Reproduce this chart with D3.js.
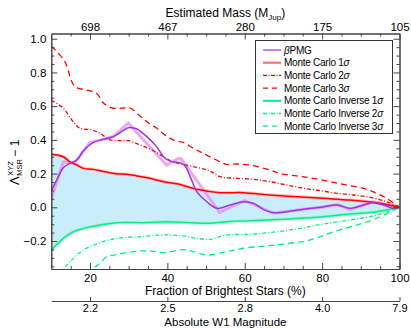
<!DOCTYPE html>
<html><head><meta charset="utf-8">
<script src="https://cdn.jsdelivr.net/npm/d3@7"></script>
<style>
body{margin:0;background:#fff;}
text{font-family:"Liberation Sans",Arial,sans-serif;fill:#000;}
</style></head>
<body><svg id="c" width="411" height="329"></svg>
<script>
// ---- data (fraction of brightest stars %, Lambda-1) ----
const mc3 = [[10,0.955],[11,0.934],[13.5,0.864],[16.1,0.716],[19.1,0.696],[21.7,0.677],[23.4,0.62],[25.6,0.59],[28.2,0.588],[30.3,0.59],[32.5,0.55],[34.7,0.508],[37.2,0.47],[39.6,0.425],[42,0.395],[44.1,0.385],[46.7,0.35],[48.4,0.33],[51,0.30],[55.3,0.255],[57.9,0.257],[61.4,0.25],[66.5,0.221],[69.1,0.2],[73.4,0.186],[77.7,0.172],[82.1,0.152],[86.4,0.132],[90.7,0.113],[94.1,0.083],[96.7,0.053],[100,0]];
const mc2 = [[10,0.635],[13.1,0.588],[15.3,0.518],[17.4,0.469],[20.4,0.459],[22.6,0.439],[25.2,0.40],[27.5,0.395],[29.9,0.395],[32.9,0.37],[36,0.34],[39,0.30],[41.5,0.27],[45,0.25],[48,0.235],[51,0.215],[53.6,0.182],[57.9,0.172],[62.2,0.166],[66.5,0.152],[70.9,0.132],[75.2,0.113],[79.5,0.099],[83.8,0.083],[88.1,0.073],[92.4,0.059],[96.7,0.033],[100,0]];
const mc1 = [[10,0.315],[11.5,0.31],[13.1,0.30],[14.8,0.27],[16.6,0.251],[18.3,0.231],[20.9,0.225],[23.4,0.213],[26.9,0.198],[29.5,0.196],[32.1,0.186],[35.5,0.172],[39,0.152],[42.8,0.138],[47.6,0.107],[53.6,0.087],[59.6,0.087],[66.5,0.073],[73.4,0.063],[80.3,0.053],[87.2,0.043],[94.1,0.027],[100,0]];
const bpmg = [[10,0.10],[11.4,0.162],[13.1,0.235],[14.8,0.261],[16.6,0.281],[18.3,0.335],[20.9,0.385],[23.4,0.403],[26,0.419],[28.6,0.455],[29.9,0.472],[31,0.472],[32.1,0.465],[34.7,0.419],[37.2,0.36],[39,0.30],[40.3,0.278],[41.5,0.268],[42.5,0.268],[43.5,0.262],[44.6,0.245],[45.9,0.182],[47.6,0.093],[50.2,0.033],[52.8,-0.006],[56.2,0.014],[59.6,0.033],[62.2,0.024],[64.8,-0.012],[67.4,-0.032],[70.9,-0.026],[75.2,-0.012],[79.5,0],[83.8,0.014],[87.2,-0.006],[90.7,0.014],[93.2,0.027],[95.8,0.014],[98.4,-0.006],[100,0]];
const bpmgRaw = [[10,0.05],[13.1,0.27],[16,0.262],[20,0.385],[23,0.40],[26,0.42],[29.9,0.50],[39.8,0.25],[42.8,0.29],[43.5,0.29],[53.5,-0.03],[60,0.04],[64,0.0],[67.4,-0.035],[75,-0.012],[80,0.0],[84,0.016],[87.2,-0.014],[93.2,0.032],[100,0]];
const inv1 = [[10,-0.253],[13.1,-0.184],[15.7,-0.145],[18.3,-0.125],[22.6,-0.105],[26.9,-0.091],[33.8,-0.091],[39.8,-0.085],[45.9,-0.091],[51,-0.095],[55.3,-0.085],[61.4,-0.08],[70,-0.071],[78.6,-0.059],[87.2,-0.04],[94.1,-0.026],[100,0]];
const inv2 = [[12.4,-0.40],[14,-0.342],[15.7,-0.303],[18.3,-0.253],[22.6,-0.21],[26.9,-0.184],[33,-0.174],[39,-0.164],[44.1,-0.17],[47.6,-0.184],[51,-0.19],[55.3,-0.164],[61.4,-0.16],[68.3,-0.145],[74.3,-0.125],[80.3,-0.099],[87.2,-0.075],[94.1,-0.046],[100,0]];
const inv3 = [[19.5,-0.40],[20.9,-0.362],[22.6,-0.332],[24.3,-0.293],[26.9,-0.28],[31.2,-0.263],[33.8,-0.258],[36.5,-0.262],[39.4,-0.269],[44.1,-0.251],[47,-0.265],[50.5,-0.283],[55.3,-0.263],[59.6,-0.243],[65.7,-0.229],[70,-0.218],[76.9,-0.194],[82.9,-0.145],[89,-0.105],[94.1,-0.065],[100,0]];
const fracTicks = [20,40,60,80,100];
const massLabels = ["698","467","280","175","105"];
const magLabels = ["2.2","2.5","2.8","4.0","7.9"];
const yTicks = [-0.2,0,0.2,0.4,0.6,0.8,1.0];
const legendNames = ["βPMG","Monte Carlo 1σ","Monte Carlo 2σ","Monte Carlo 3σ","Monte Carlo Inverse 1σ","Monte Carlo Inverse 2σ","Monte Carlo Inverse 3σ"];

// ---- layout ----
const L=51.3, R=399.5, T=33.5, B=269;
const svg = d3.select("#c");
const x = d3.scaleLinear().domain([10,100]).range([L,R]);
const y = d3.scaleLinear().domain([-0.366,1.031]).range([B,T]);

const RED="#ff0000", PUR="#9a35e6", GRN="#00ee8c";
const defs = svg.append("defs");
defs.append("clipPath").attr("id","clip").append("rect").attr("x",L).attr("y",T).attr("width",R-L).attr("height",B-T);
const g = svg.append("g").attr("clip-path","url(#clip)");
const line = d3.line().x(d=>x(d[0])).y(d=>y(d[1])).curve(d3.curveCatmullRom.alpha(0.5));
const lineLin = d3.line().x(d=>x(d[0])).y(d=>y(d[1]));

// fill between MC1 and Inverse1
const p1 = line(mc1);
const p2 = line(inv1.slice().reverse()).replace(/^M/,"L");
g.append("path").attr("d",p1+p2+"Z").attr("fill","#c9eefb").attr("stroke","none");

// bands
g.append("path").attr("d",line(mc1)).attr("fill","none").attr("stroke","#ffb0c0").attr("stroke-opacity",0.7).attr("stroke-width",3.5);
g.append("path").attr("d",line(inv1)).attr("fill","none").attr("stroke","#a0f5cc").attr("stroke-opacity",0.7).attr("stroke-width",3.5);
g.append("path").attr("d",lineLin(bpmgRaw)).attr("fill","none").attr("stroke","#ee88ee").attr("stroke-opacity",0.75).attr("stroke-width",3).attr("stroke-linejoin","miter");

const DASH="6,4", DASHDOT="4,2,1,2";
function draw(data,color,dash,w){
  g.append("path").attr("d",line(data)).attr("fill","none").attr("stroke",color)
   .attr("stroke-width",w).attr("stroke-dasharray",dash||null);
}
draw(mc3,RED,DASH,1.3);
draw(mc2,RED,DASHDOT,1.3);
draw(inv3,GRN,DASH,1.3);
draw(inv2,GRN,DASHDOT,1.3);
draw(inv1,GRN,null,1.5);
draw(mc1,RED,null,1.5);
draw(bpmg,PUR,null,1.5);

// ---- axes ----
const minorX = d3.range(15,100,5).filter(v=>v%20!==0);
const minorY = d3.range(-0.35,1.03,0.05).map(v=>+v.toFixed(2)).filter(v=>Math.abs((v*10)%2)>0.01 && Math.abs(Math.abs((v*10)%2)-2)>0.01);
function styleAxis(sel,fs){
  sel.selectAll("path").attr("stroke","#444").attr("stroke-width",1);
  sel.selectAll("line").attr("stroke","#444").attr("stroke-width",1);
  sel.selectAll("text").style("font-size",(fs||11.5)+"px").attr("fill","#000");
}
// bottom
styleAxis(svg.append("g").attr("transform",`translate(0,${B})`)
  .call(d3.axisBottom(x).tickValues(fracTicks).tickFormat(d3.format("d")).tickSizeInner(-6).tickSizeOuter(0).tickPadding(5)));
styleAxis(svg.append("g").attr("transform",`translate(0,${B})`)
  .call(d3.axisBottom(x).tickValues(minorX).tickFormat("").tickSizeInner(-3).tickSizeOuter(0)));
// top
styleAxis(svg.append("g").attr("transform",`translate(0,${T})`)
  .call(d3.axisTop(x).tickValues(fracTicks).tickFormat((d,i)=>massLabels[i]).tickSizeInner(-6).tickSizeOuter(0).tickPadding(3)));
styleAxis(svg.append("g").attr("transform",`translate(0,${T})`)
  .call(d3.axisTop(x).tickValues(minorX).tickFormat("").tickSizeInner(-3).tickSizeOuter(0)));
// left
styleAxis(svg.append("g").attr("transform",`translate(${L},0)`)
  .call(d3.axisLeft(y).tickValues(yTicks).tickFormat(d3.format(".1f")).tickSizeInner(-6).tickSizeOuter(0).tickPadding(5)));
styleAxis(svg.append("g").attr("transform",`translate(${L},0)`)
  .call(d3.axisLeft(y).tickValues(minorY).tickFormat("").tickSizeInner(-3).tickSizeOuter(0)));
// right
styleAxis(svg.append("g").attr("transform",`translate(${R},0)`)
  .call(d3.axisRight(y).tickValues(yTicks).tickFormat("").tickSizeInner(-6).tickSizeOuter(0)));
styleAxis(svg.append("g").attr("transform",`translate(${R},0)`)
  .call(d3.axisRight(y).tickValues(minorY).tickFormat("").tickSizeInner(-3).tickSizeOuter(0)));
// magnitude axis
styleAxis(svg.append("g").attr("transform",`translate(0,301)`)
  .call(d3.axisBottom(x).tickValues(fracTicks).tickFormat((d,i)=>magLabels[i]).tickSizeInner(-4).tickSizeOuter(0).tickPadding(3)),11);

// titles
svg.append("text").attr("x",(L+R)/2).attr("y",17).attr("text-anchor","middle").style("font-size","12px")
  .html('Estimated Mass (M<tspan dy="3" style="font-size:8px">Jup</tspan><tspan dy="-3">)</tspan>');
svg.append("text").attr("x",(L+R)/2).attr("y",295).attr("text-anchor","middle").style("font-size","12px").text("Fraction of Brightest Stars (%)");
svg.append("text").attr("x",(L+R)/2).attr("y",326).attr("text-anchor","middle").style("font-size","11.5px").text("Absolute W1 Magnitude");

// y label
const yl = svg.append("g").attr("transform","translate(19,155) rotate(-90)");
const t1 = yl.append("text").attr("x",-30).attr("y",0).style("font-size","13px").text("Λ");
const w1 = t1.node().getComputedTextLength();
yl.append("text").attr("x",-30+w1+0.5).attr("y",-6).style("font-size","7.5px").text("XYZ");
const sb = yl.append("text").attr("x",-30+w1+0.5).attr("y",3).style("font-size","7.5px").text("MSR");
const w2 = sb.node().getComputedTextLength();
yl.append("text").attr("x",-30+w1+w2+3).attr("y",0).style("font-size","12px").text("− 1");

// legend
const lg = svg.append("g");
lg.append("rect").attr("x",255.5).attr("y",40.5).attr("width",137).attr("height",93).attr("fill","#fff").attr("stroke","#333").attr("stroke-width",1);
const lstyles = [[PUR,null,1.2],[RED,null,2.2],[RED,"4,1.5,1,1.5",1.3],[RED,"5,4",1.3],[GRN,null,2],[GRN,"4,1.5,1,1.5",1.3],[GRN,"5,4",1.3]];
legendNames.forEach((n,i)=>{
  const yy = 50 + i*12.7;
  const s = lstyles[i];
  lg.append("line").attr("x1",263).attr("x2",281).attr("y1",yy).attr("y2",yy)
    .attr("stroke",i===1?"#ff7070":s[0]).attr("stroke-width",s[2]).attr("stroke-dasharray",s[1]);
  const t = lg.append("text").attr("x",284).attr("y",yy+3.5).style("font-size","10px").style("letter-spacing","-0.25px");
  const m = n.match(/^(β)?(.*?)(σ)?$/);
  if(m[1]) t.append("tspan").style("font-style","italic").text(m[1]);
  t.append("tspan").text(m[2]);
  if(m[3]) t.append("tspan").style("font-style","italic").text(m[3]);
});
</script></body></html>
